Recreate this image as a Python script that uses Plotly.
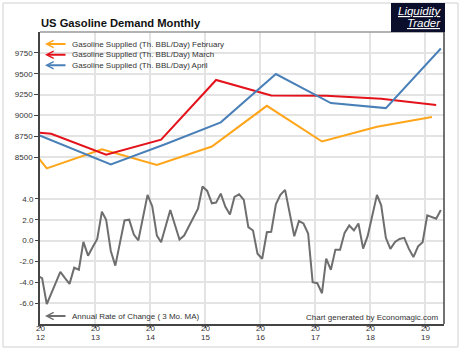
import plotly.graph_objects as go

# ---------------- data ----------------
years = [2011, 2012, 2013, 2014, 2015, 2016, 2017, 2018, 2019]
feb_vals = [9200, 8365, 8595, 8405, 8627, 9115, 8687, 8865, 8981]
mar_vals = [8836, 8780, 8530, 8710, 9425, 9238, 9235, 9200, 9124]
apr_vals = [8949, 8680, 8413, 8657, 8917, 9496, 9148, 9088, 9802]

roc_start = (2011, 12)
roc_vals = [
    -3.4,
    -3.6, -6.1, -5.1, -4.1, -3.0, -3.6, -4.15, -2.6, -2.8, -0.13, -1.45, -0.65,
    0.16, 2.77, 2.0, -1.0, -2.4, -0.2, 1.93, 2.0, 0.58, 0.03, 2.2, 4.38,
    3.3, 0.48, -0.16, 1.4, 2.93, 1.5, 0.1, 0.48, 1.35, 2.19, 3.06, 5.19,
    4.76, 3.57, 3.64, 4.5, 3.26, 2.5, 4.18, 4.44, 3.9, 1.29, 0.97, -1.26,
    -1.74, 0.8, 0.84, 3.48, 4.38, 4.86, 2.83, 0.42, 1.87, 1.64, 0.68, -3.99,
    -4.09, -5.05, -1.74, -2.8, -0.87, -0.87, 0.74, 1.45, 0.97, 1.64, -0.77, 0.42,
    2.4, 4.38, 3.38, 0.26, -0.8, -0.13, 0.16, 0.26, -0.8, -1.58, -0.55, -0.16,
    2.42, 2.25, 2.1, 2.93,
]

x_tick_years = [2012, 2013, 2014, 2015, 2016, 2017, 2018, 2019]
upper_ticks = [8500, 8750, 9000, 9250, 9500, 9750]
lower_ticks = [-6, -4, -2, 0, 2, 4]

series_names = [
    "Gasoline Supplied (Th. BBL/Day) February",
    "Gasoline Supplied (Th. BBL/Day) March",
    "Gasoline Supplied (Th. BBL/Day) April",
]
roc_name = "Annual Rate of Change ( 3 Mo. MA)"

# ---------------- derived x values ----------------
feb_x = [f"{y}-02-15" for y in years]
mar_x = [f"{y}-03-15" for y in years]
apr_x = [f"{y}-04-15" for y in years]

roc_x = []
yy, mm = roc_start
for _ in roc_vals:
    roc_x.append(f"{yy}-{mm:02d}-15")
    mm += 1
    if mm > 12:
        mm = 1
        yy += 1

ORANGE = "#FFA51A"
RED = "#E3121B"
BLUE = "#4A80B8"
GRAY = "#6E6E6E"
FONT = "Liberation Sans, Arial, sans-serif"

W, H = 464, 351
L, R, T, B = 40, 20, 32, 27
PW, PH = W - L - R, H - T - B


def px(xp):
    return (xp - L) / PW


def py(yp):
    return (H - B - yp) / PH


fig = go.Figure()
for xs, vs, c, n in [(feb_x, feb_vals, ORANGE, series_names[0]),
                     (mar_x, mar_vals, RED, series_names[1]),
                     (apr_x, apr_vals, BLUE, series_names[2])]:
    fig.add_trace(go.Scatter(x=xs, y=vs, mode="lines", name=n,
                             line=dict(color=c, width=2), yaxis="y"))
fig.add_trace(go.Scatter(x=roc_x, y=roc_vals, mode="lines", name=roc_name,
                         line=dict(color=GRAY, width=2), yaxis="y2"))

grid = "#E3E3E3"
fig.update_layout(
    width=W, height=H,
    margin=dict(l=L, r=R, t=T, b=B),
    paper_bgcolor="white", plot_bgcolor="white",
    showlegend=False,
    font=dict(family=FONT, size=8, color="#333"),
    xaxis=dict(
        range=["2012-01-01", "2019-05-06"],
        tickvals=[f"{y}-01-01" for y in x_tick_years],
        showticklabels=False,
        showgrid=True, gridcolor=grid, gridwidth=1.5,
        showline=True, linecolor="#444", linewidth=1.5,
        ticks="outside", ticklen=2, tickcolor="#444",
        zeroline=False,
    ),
    yaxis=dict(
        range=[6500, 10000],
        tickvals=upper_ticks,
        showgrid=True, gridcolor=grid, gridwidth=1.5,
        showline=True, linecolor="#444", linewidth=1.5,
        ticks="outside", ticklen=4, tickcolor="#444",
        tickfont=dict(size=8, color="#333"),
        zeroline=False,
    ),
    yaxis2=dict(
        range=[-8, 20],
        overlaying="y", side="left",
        tickvals=lower_ticks,
        ticktext=[f"{v:.1f}" for v in lower_ticks],
        showgrid=True, gridcolor=grid, gridwidth=1.5,
        ticks="outside", ticklen=4, tickcolor="#444",
        tickfont=dict(size=8, color="#333"),
        zeroline=False,
    ),
)

shapes = [
    # outer border
    dict(type="rect", xref="paper", yref="paper",
         x0=px(3), x1=px(458), y0=py(347), y1=py(3),
         line=dict(color="#D0D0D0", width=1), layer="below"),
    # top frame
    dict(type="line", xref="paper", yref="paper", x0=0, x1=1, y0=1, y1=1,
         line=dict(color="#999", width=1.5)),
    # right frame
    dict(type="line", xref="paper", yref="paper", x0=1, x1=1, y0=0, y1=1,
         line=dict(color="#444", width=1.5)),
    # logo box
    dict(type="rect", xref="paper", yref="paper",
         x0=px(391), x1=px(445), y0=py(32), y1=py(3),
         fillcolor="#0C0F2C", line=dict(width=0)),
]

ann = []
# logo text
ann.append(dict(xref="paper", yref="paper", x=px(443), y=py(10.5), xanchor="right",
                yanchor="middle", showarrow=False,
                text="<i><u>Liquidity</u></i>",
                font=dict(family=FONT, size=11.5, color="white")))
ann.append(dict(xref="paper", yref="paper", x=px(443), y=py(23.5), xanchor="right",
                yanchor="middle", showarrow=False,
                text="<i><u>Trader</u></i>",
                font=dict(family=FONT, size=11.5, color="white")))
# title
ann.append(dict(xref="paper", yref="paper", x=px(39), y=py(23), xanchor="left",
                yanchor="middle", showarrow=False,
                text="<b>US Gasoline Demand Monthly</b>",
                font=dict(family=FONT, size=11.2, color="#111")))

# x tick labels (two stacked lines)
for y in x_tick_years:
    ann.append(dict(xref="x", yref="paper", x=f"{y}-01-01", y=py(328.5),
                    xanchor="center", yanchor="middle", showarrow=False,
                    text="20", font=dict(family=FONT, size=8, color="#333")))
    ann.append(dict(xref="x", yref="paper", x=f"{y}-01-01", y=py(337),
                    xanchor="center", yanchor="middle", showarrow=False,
                    text=str(y)[2:], font=dict(family=FONT, size=8, color="#333")))

# legend entries
for yp, c, n in [(44, ORANGE, series_names[0]), (54.7, RED, series_names[1]),
                 (65.3, BLUE, series_names[2]), (316, GRAY, roc_name)]:
    ann.append(dict(xref="paper", yref="paper", x=px(45), y=py(yp),
                    ax=22, ay=0, text="", showarrow=True,
                    arrowhead=5, arrowsize=0.7, arrowwidth=2, arrowcolor=c))
    ann.append(dict(xref="paper", yref="paper", x=px(70), y=py(yp), xanchor="left",
                    yanchor="middle", showarrow=False, text=n,
                    font=dict(family=FONT, size=8, color="#333")))

ann.append(dict(xref="paper", yref="paper", x=px(440), y=py(317.5), xanchor="right",
                yanchor="middle", showarrow=False,
                text="Chart generated by Economagic.com",
                font=dict(family=FONT, size=8, color="#333")))

fig.update_layout(shapes=shapes, annotations=ann)
fig.write_html("out.html")
